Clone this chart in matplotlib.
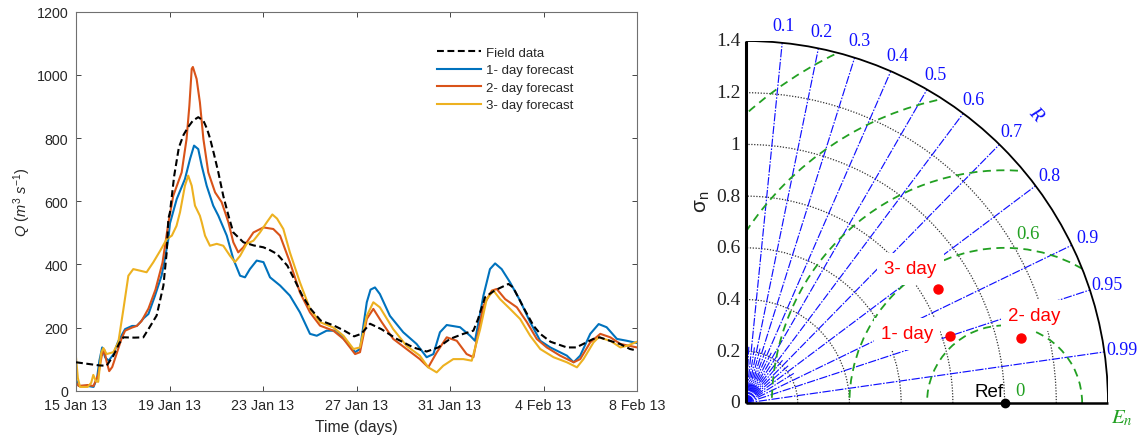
import numpy as np
import matplotlib
matplotlib.use('Agg')
import matplotlib.pyplot as plt
from matplotlib.patches import Circle, Wedge, Arc

plt.rcParams['font.family'] = ['Liberation Sans', 'DejaVu Sans']
plt.rcParams['mathtext.fontset'] = 'custom'
plt.rcParams['mathtext.rm'] = 'Liberation Sans'
plt.rcParams['mathtext.it'] = 'Liberation Sans:italic'

# ---------------- left panel data (days since 15 Jan 2013, Q in m3/s) ----------------
field_days = [0.0, 0.5, 1.0, 1.31, 1.6, 1.85, 2.03, 2.5, 2.88, 3.1, 3.45, 3.74, 3.88, 3.95,
              4.02, 4.2, 4.4, 4.6, 4.8, 5.0, 5.23, 5.45, 5.6, 5.73, 5.9, 6.09, 6.3, 6.52,
              6.73, 7.16, 7.6, 8.02, 8.3, 8.6, 9.04, 9.33, 9.68, 10.04, 10.47, 11.04, 11.48,
              11.9, 12.2, 12.58, 13.06, 13.72, 14.43, 15.0, 15.5, 16.0, 16.57, 17.0, 17.2,
              17.5, 17.9, 18.5, 18.7, 19.14, 19.57, 19.86, 20.3, 21.0, 21.4, 21.7, 22.13,
              22.4, 22.84, 23.27, 23.7, 24.0]
field_q = [90, 85, 80, 79, 111, 150, 169, 168, 169, 195, 238, 333, 438, 544,
           565, 680, 770, 810, 835, 855, 866, 855, 830, 800, 750, 691, 617, 555,
           501, 470, 460, 454, 445, 433, 396, 354, 301, 259, 222, 206, 190,
           172, 180, 212, 195, 164, 137, 124, 137, 164, 180, 190, 227,
           296, 317, 338, 327, 264, 206, 180, 155, 137, 137, 148, 164,
           169, 158, 148, 132, 127]

d1_days = [0.0, 0.12, 0.5, 0.75, 0.9, 1.0, 1.12, 1.25, 1.4, 1.6, 1.8, 2.1, 2.4, 2.6, 2.74,
           2.9, 3.1, 3.38, 3.66, 3.8, 3.95, 4.02, 4.31, 4.66, 4.88, 5.05, 5.23, 5.38, 5.59,
           5.87, 6.09, 6.45, 6.73, 7.02, 7.23, 7.44, 7.73, 8.02, 8.3, 8.73, 9.15, 9.58,
           10.01, 10.3, 10.72, 11.15, 11.58, 11.94, 12.15, 12.44, 12.6, 12.79, 13.0, 13.43,
           14.0, 14.57, 15.0, 15.29, 15.57, 15.86, 16.43, 16.86, 17.07, 17.43, 17.71, 17.93,
           18.21, 18.57, 19.0, 19.43, 19.86, 20.29, 21.0, 21.29, 21.57, 22.0, 22.36, 22.7,
           23.14, 23.57, 24.0]
d1_q = [35, 15, 15, 12, 40, 95, 137, 105, 95, 115, 155, 195, 205, 205, 216,
        230, 243, 301, 364, 417, 480, 530, 607, 670, 734, 776, 765, 712, 649,
        586, 554, 491, 417, 364, 359, 385, 412, 407, 359, 333, 301, 248,
        180, 174, 190, 190, 153, 122, 132, 280, 320, 327, 306, 237,
        185, 148, 106, 116, 185, 208, 201, 174, 158, 301, 385, 403,
        385, 343, 285, 217, 158, 137, 111, 90, 111, 180, 211, 201,
        164, 158, 151]

d2_days = [0.0, 0.12, 0.5, 0.75, 0.95, 1.1, 1.21, 1.3, 1.42, 1.55, 1.75, 1.95, 2.1, 2.4, 2.6,
           2.8, 3.1, 3.4, 3.7, 3.95, 4.16, 4.52, 4.73, 4.85, 4.95, 5.0, 5.16, 5.3, 5.45,
           5.66, 5.95, 6.23, 6.45, 6.52, 6.73, 6.94, 7.16, 7.59, 8.02, 8.44, 8.73, 9.15,
           9.58, 10.01, 10.44, 11.01, 11.44, 11.94, 12.15, 12.44, 12.72, 13.08, 13.57,
           14.14, 14.71, 15.07, 15.43, 15.86, 16.29, 16.71, 17.0, 17.43, 17.79, 18.0,
           18.36, 18.86, 19.29, 19.71, 20.14, 20.71, 21.29, 21.57, 22.0, 22.43, 22.86,
           23.29, 24.0]
d2_q = [25, 15, 18, 15, 50, 110, 130, 95, 62, 75, 120, 165, 190, 200, 205,
        220, 260, 320, 405, 530, 617, 691, 797, 902, 1019, 1025, 987, 913, 797,
        691, 628, 597, 549, 533, 470, 438, 454, 501, 517, 512, 491, 407,
        311, 248, 206, 190, 164, 116, 122, 227, 259, 217, 164,
        132, 100, 74, 121, 169, 158, 116, 106, 269, 317, 322,
        290, 264, 217, 164, 137, 111, 90, 100, 153, 180, 169,
        148, 137]

d3_days = [0.0, 0.08, 0.17, 0.5, 0.65, 0.74, 0.85, 0.95, 1.08, 1.17, 1.31, 1.6, 1.81, 2.03,
           2.24, 2.45, 2.74, 3.02, 3.31, 3.6, 3.88, 4.1, 4.3, 4.45, 4.66, 4.8, 4.95, 5.09,
           5.3, 5.38, 5.52, 5.73, 6.02, 6.3, 6.59, 6.8, 7.02, 7.3, 7.59, 7.87, 8.16, 8.4,
           8.6, 8.87, 9.15, 9.58, 10.01, 10.44, 11.01, 11.44, 11.87, 12.15, 12.44, 12.72,
           13.0, 13.57, 14.14, 14.71, 15.07, 15.43, 15.71, 16.14, 16.57, 16.93, 17.29,
           17.57, 17.86, 18.14, 18.57, 19.0, 19.43, 19.86, 20.43, 21.0, 21.43, 21.71,
           22.14, 22.36, 22.86, 23.29, 23.57, 24.0]
d3_q = [105, 40, 12, 12, 25, 50, 30, 28, 120, 135, 116, 122, 153, 259,
        364, 385, 380, 375, 407, 443, 480, 491, 522, 565, 649, 681, 649, 586,
        554, 533, 491, 459, 465, 459, 427, 407, 427, 465, 475, 501, 533, 558,
        545, 512, 438, 343, 259, 217, 200, 174, 132, 137, 237, 280,
        264, 195, 142, 111, 74, 58, 79, 100, 100, 95, 195,
        290, 317, 290, 259, 227, 174, 132, 106, 90, 74, 100,
        153, 169, 158, 137, 142, 155]

series_labels = ['Field data', '1- day forecast', '2- day forecast', '3- day forecast']
x_tick_days = [0, 4, 8, 12, 16, 20, 24]
x_tick_labels = ['15 Jan 13', '19 Jan 13', '23 Jan 13', '27 Jan 13', '31 Jan 13', '4 Feb 13', '8 Feb 13']
y_ticks = [0, 200, 400, 600, 800, 1000, 1200]

# ---------------- Taylor diagram data ----------------
model_names = ['1- day', '2- day', '3- day']
model_std = [0.830, 1.092, 0.863]
model_corr = [0.95, 0.973, 0.86]
ref_std = 1.0
corr_major = [0.1, 0.2, 0.3, 0.4, 0.5, 0.6, 0.7, 0.8, 0.9, 0.95, 0.99]
corr_major_labels = ['0.1', '0.2', '0.3', '0.4', '0.5', '0.6', '0.7', '0.8', '0.9', '0.95', '0.99']
corr_minor = [0.05, 0.15, 0.25, 0.35, 0.45, 0.55, 0.65, 0.75, 0.85]
std_grid = [0.2, 0.4, 0.6, 0.8, 1.0, 1.2]
std_max = 1.4
std_ticks = [0, 0.2, 0.4, 0.6, 0.8, 1.0, 1.2, 1.4]
std_tick_labels = ['0', '0.2', '0.4', '0.6', '0.8', '1', '1.2', '1.4']
rms_levels = [0.3, 0.6, 0.9, 1.2, 1.5]

C_BLUE = '#0072BD'
C_ORANGE = '#D95319'
C_YELLOW = '#EDB120'
AX_COL = '#262626'

W, H = 1143, 439
fig = plt.figure(figsize=(W / 100, H / 100), dpi=100)

# ================= left panel =================
ax = fig.add_axes([76 / W, 1 - 391.7 / H, (637 - 76) / W, (391.7 - 12.7) / H])
ax.plot(field_days, field_q, color='black', lw=1.5, ls=(0, (3.3, 1.7)), label=series_labels[0], zorder=5)
ax.plot(d1_days, d1_q, color=C_BLUE, lw=1.5, label=series_labels[1])
ax.plot(d2_days, d2_q, color=C_ORANGE, lw=1.5, label=series_labels[2])
ax.plot(d3_days, d3_q, color=C_YELLOW, lw=1.5, label=series_labels[3])
ax.set_xlim(0, 24)
ax.set_ylim(0, 1200)
ax.set_xticks(x_tick_days)
ax.set_xticklabels(x_tick_labels)
ax.set_yticks(y_ticks)
ax.tick_params(direction='in', length=3.8, width=0.6, colors=AX_COL, labelsize=10.3,
               top=True, right=True, pad=5.5, labelcolor=AX_COL)
for s in ax.spines.values():
    s.set_color('#707070')
    s.set_linewidth(0.8)
ax.set_xlabel('Time (days)', fontsize=11.3, color=AX_COL)
ax.xaxis.set_label_coords(0.5, (391.7 - 420.5) / 379)
ax.set_ylabel(r'$Q$ ($m^3$ $s^{-1}$)', fontsize=10.5, color=AX_COL)
ax.yaxis.set_label_coords((33 - 76) / 561, 0.5)
leg = fig.legend(loc='upper left', bbox_to_anchor=(437 / W, 1 - 47.5 / H), frameon=False,
                 fontsize=9.5, handlelength=3.3, handletextpad=0.4, labelspacing=0.4,
                 borderpad=0, borderaxespad=0)
for t in leg.get_texts():
    t.set_color(AX_COL)

# ================= Taylor diagram =================
tx = fig.add_axes([746 / W, 1 - 404 / H, 362 / W, 362 / H])
tx.set_xlim(0, std_max)
tx.set_ylim(0, std_max)
tx.axis('off')

SERIF = ['Liberation Serif', 'DejaVu Serif']
GREEN = '#22A022'
BLUE = '#1010FF'

# std arcs (dotted)
for r in std_grid:
    tx.add_patch(Arc((0, 0), 2 * r, 2 * r, theta1=0, theta2=90, color='#333333', lw=0.9,
                     ls=(0, (1, 1.3)), zorder=2))
# outer arc
tx.add_patch(Arc((0, 0), 2 * std_max, 2 * std_max, theta1=0, theta2=90, color='black', lw=1.3, zorder=4))

# correlation spokes
for c, lab in zip(corr_major, corr_major_labels):
    th = np.arccos(c)
    tx.plot([0, std_max * np.cos(th)], [0, std_max * np.sin(th)], color=BLUE, lw=0.85,
            ls=(0, (7, 1.3, 1.3, 1.3)), zorder=2, clip_on=False)
    rl = 1.468
    tx.text(rl * np.cos(th), rl * np.sin(th), lab, color=BLUE, fontsize=13, family=SERIF,
            ha='center', va='center', clip_on=False)
for c in corr_minor:
    th = np.arccos(c)
    tx.plot([0, 0.22 * np.cos(th)], [0, 0.22 * np.sin(th)], color=BLUE, lw=0.8,
            ls=(0, (7, 1.3, 1.3, 1.3)), zorder=2, clip_on=False)

# centred RMS circles around reference
clipw = Wedge((0, 0), std_max, 0, 90, transform=tx.transData)
for r in rms_levels:
    circ = Circle((ref_std, 0), r, fill=False, ec=GREEN, lw=1.3, ls=(0, (4.5, 3)), zorder=3)
    tx.add_patch(circ)
    circ.set_clip_path(clipw)

# axes
tx.plot([0, 0], [0, std_max], color='black', lw=2.2, zorder=6, clip_on=False, solid_capstyle='butt')
tx.plot([0, std_max], [0, 0], color='black', lw=1.8, zorder=6, clip_on=False, solid_capstyle='butt')

for v, lab in zip(std_ticks, std_tick_labels):
    tx.text(-0.022, v, lab, fontsize=14, family=SERIF, ha='right', va='center', color='#222222')

tx.text(-0.17, 0.78, r'$\mathrm{σ}_\mathrm{n}$', fontsize=15, rotation=90, ha='center', va='center',
        color='#222222')
tx.text(1.12, 1.12, 'R', color=BLUE, fontsize=14, family=SERIF, style='italic', rotation=-48,
        ha='center', va='center')
tx.text(1.455, -0.055, r'$E_n$', color=GREEN, fontsize=15, math_fontfamily='stix',
        ha='center', va='center', clip_on=False)
tx.text(1.06, 0.048, '0', color=GREEN, fontsize=13.5, family=SERIF, ha='center', va='center')
tx.text(1.089, 0.655, '0.6', color=GREEN, fontsize=13.5, family=SERIF, ha='center', va='center')

# reference point
tx.plot([ref_std], [0], 'o', color='black', ms=6, zorder=8, clip_on=False)
tx.text(ref_std - 0.005, 0.045, 'Ref', fontsize=13.5, ha='right', va='center', color='black', zorder=7)

# models
label_offsets = [(-0.165, 0.008), (0.053, 0.086), (-0.106, 0.078)]
for name, s, c, off in zip(model_names, model_std, model_corr, label_offsets):
    th = np.arccos(c)
    x, y = s * np.cos(th), s * np.sin(th)
    tx.text(x + off[0], y + off[1], name, color='red', fontsize=13.5, ha='center', va='center',
            zorder=7, bbox=dict(boxstyle='square,pad=0.38', fc='white', ec='none'))
    tx.plot([x], [y], 'o', color='red', ms=6.5, zorder=8)

fig.savefig('out.png', dpi=100)
